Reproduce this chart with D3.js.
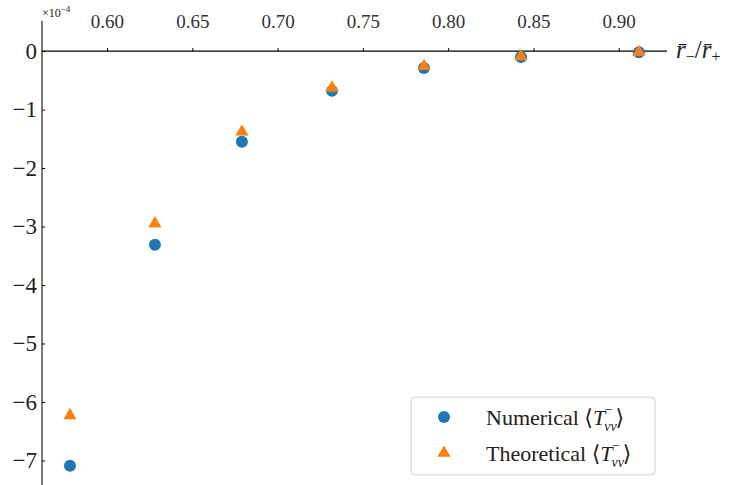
<!DOCTYPE html>
<html>
<head>
<meta charset="utf-8">
<script src="https://cdn.jsdelivr.net/npm/d3@7"></script>
<style>
  body { margin: 0; background: #fff; }
  svg text { font-family: "Liberation Serif", "DejaVu Serif", serif; }
</style>
</head>
<body>
<div id="chart"></div>
<script>
// ratio r-/r+ and the two series (units of 1e-4)
const ratios = [0.5783, 0.6281, 0.6791, 0.7319, 0.7858, 0.8427, 0.9118];
const numerical = [-7.09, -3.31, -1.55, -0.68, -0.29, -0.10, -0.02];
const theoretical = [-6.23, -2.95, -1.38, -0.63, -0.26, -0.09, -0.02];
const xTicks = [0.60, 0.65, 0.70, 0.75, 0.80, 0.85, 0.90];
const yTicks = [0, -1, -2, -3, -4, -5, -6, -7];

const width = 733, height = 485;
const blue = "#1f77b4", orange = "#ff7f0e";
const serif = "'Liberation Serif', 'DejaVu Serif', serif";

const svg = d3.select("#chart")
  .append("svg")
  .attr("width", width)
  .attr("height", height);

const x = d3.scaleLinear()
  .domain([0.5619, 0.9283])
  .range([42, 667]);

const y = d3.scaleLinear()
  .domain([0.52, -7.42])
  .range([20.7, 485]);

const fmtY = d => d === 0 ? "0" : "\u2212" + Math.abs(d);

// x axis sits on y = 0, labels on top
const xAxis = svg.append("g")
  .attr("transform", `translate(0, ${y(0)})`)
  .call(d3.axisTop(x).tickValues(xTicks).tickFormat(d3.format(".2f")).tickSize(3).tickPadding(20));
xAxis.attr("font-family", serif).attr("font-size", 19);
xAxis.select(".domain").attr("d", `M${x.range()[0]},0H${x.range()[1]}`).attr("stroke", "#000").attr("stroke-width", 1.3);
xAxis.selectAll(".tick line").attr("stroke", "#000");
xAxis.selectAll(".tick text").attr("fill", "#333");

// y axis on the left, ticks pointing inward
const yAxis = svg.append("g")
  .attr("transform", `translate(${x.range()[0]}, 0)`)
  .call(d3.axisLeft(y).tickValues(yTicks).tickFormat(fmtY).tickSize(-3).tickPadding(5));
yAxis.attr("font-family", serif).attr("font-size", 23);
yAxis.select(".domain").attr("d", `M0,${y.range()[0]}V${y.range()[1]}`).attr("stroke", "#333").attr("stroke-width", 1.3);
yAxis.selectAll(".tick text").attr("fill", "#222");

// offset label
const off = svg.append("text")
  .attr("x", 42)
  .attr("y", 17)
  .attr("font-size", 12)
  .attr("fill", "#222");
off.append("tspan").text("\u00d710");
off.append("tspan").attr("font-size", 9).attr("dy", -5).text("\u22124");

// x axis label
const xl = svg.append("text")
  .attr("x", 676)
  .attr("y", 58)
  .attr("font-size", 25)
  .attr("fill", "#222");
xl.append("tspan").attr("font-style", "italic").text("r\u0304");
xl.append("tspan").attr("font-size", 16).attr("dy", 4).text("\u2212");
xl.append("tspan").attr("dy", -4).text("/");
xl.append("tspan").attr("font-style", "italic").text("r\u0304");
xl.append("tspan").attr("font-size", 16).attr("dy", 4).text("+");

const pts = ratios.map((r, i) => ({ r: r, n: numerical[i], t: theoretical[i] }));

svg.selectAll(".num")
  .data(pts)
  .enter()
  .append("circle")
  .attr("class", "num")
  .attr("cx", d => x(d.r))
  .attr("cy", d => y(d.n))
  .attr("r", 6)
  .attr("fill", blue);

const tri = d3.symbol().type(d3.symbolTriangle).size(75);
svg.selectAll(".theo")
  .data(pts)
  .enter()
  .append("path")
  .attr("class", "theo")
  .attr("transform", d => `translate(${x(d.r)}, ${y(d.t)})`)
  .attr("d", tri)
  .attr("fill", orange);

// legend
const legend = svg.append("g").attr("transform", "translate(411, 397)");
legend.append("rect")
  .attr("width", 244)
  .attr("height", 78)
  .attr("rx", 4)
  .attr("fill", "#fff")
  .attr("fill-opacity", 0.8)
  .attr("stroke", "#d0d0d0");

const items = [
  { name: "Numerical", color: blue, shape: "circle" },
  { name: "Theoretical", color: orange, shape: "triangle" }
];

const li = legend.selectAll(".legend-item")
  .data(items)
  .enter()
  .append("g")
  .attr("class", "legend-item")
  .attr("transform", (d, i) => `translate(0, ${20 + i * 36})`);

li.each(function (d) {
  const g = d3.select(this);
  if (d.shape === "circle") {
    g.append("circle").attr("cx", 33).attr("cy", 0).attr("r", 6).attr("fill", d.color);
  } else {
    g.append("path").attr("transform", "translate(33, 0)").attr("d", tri).attr("fill", d.color);
  }
  const t = g.append("text")
    .attr("x", 75)
    .attr("y", 8)
    .attr("font-size", 22)
    .attr("fill", "#222");
  t.append("tspan").text(d.name + " \u27e8");
  t.append("tspan").attr("font-style", "italic").text("T");
  t.append("tspan").attr("font-size", 14).attr("font-style", "italic").attr("dx", -1).attr("dy", 6).text("vv");
  t.append("tspan").attr("font-size", 14).attr("dx", -12).attr("dy", -17).text("\u2212");
  t.append("tspan").attr("dy", 11).attr("dx", 3).text("\u27e9");
});
</script>
</body>
</html>
